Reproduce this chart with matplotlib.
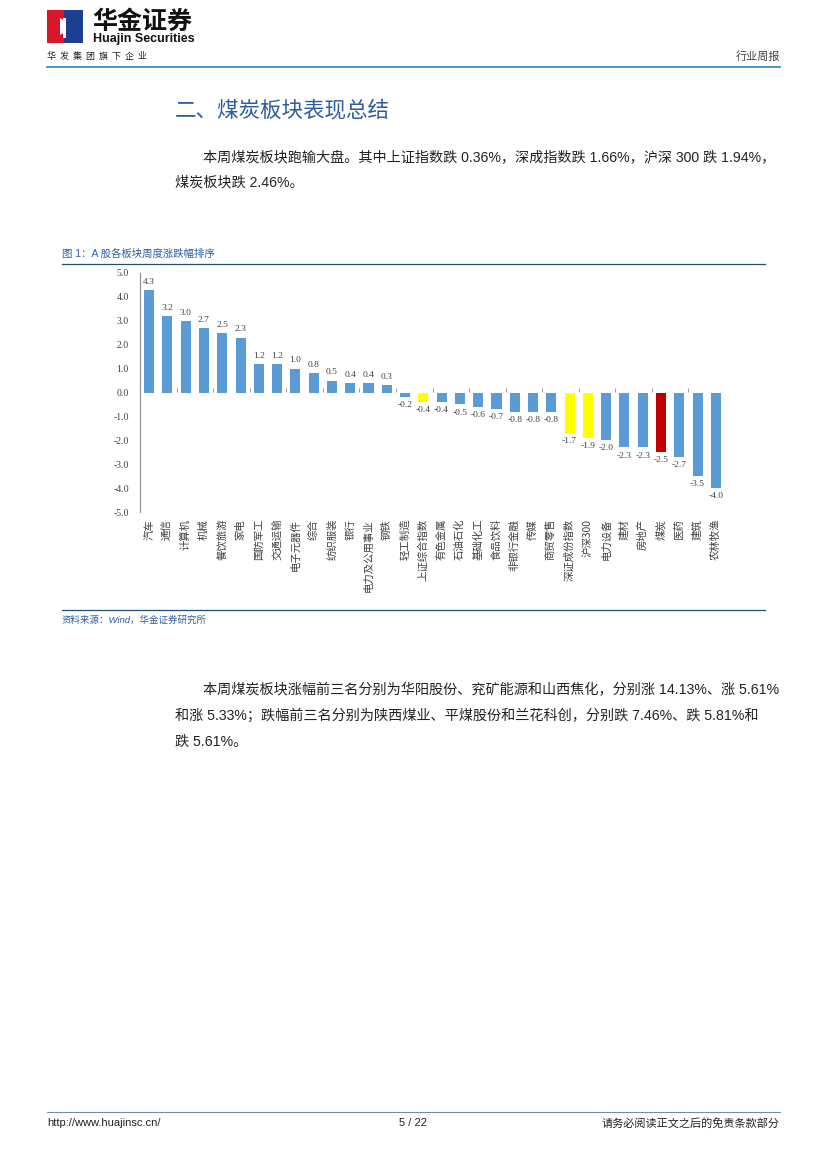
import numpy as np
import matplotlib
matplotlib.use('Agg')
import matplotlib.pyplot as plt
from matplotlib.patches import Rectangle, Polygon
from matplotlib.lines import Line2D

plt.rcParams['font.family'] = ['Liberation Sans', 'Noto Sans CJK SC', 'DejaVu Sans']

W, H = 827, 1169

# weekly change by sector (%), sorted
sectors = ['汽车', '通信', '计算机', '机械', '餐饮旅游', '家电', '国防军工', '交通运输',
           '电子元器件', '综合', '纺织服装', '银行', '电力及公用事业', '钢铁', '轻工制造',
           '上证综合指数', '有色金属', '石油石化', '基础化工', '食品饮料', '非银行金融',
           '传媒', '商贸零售', '深证成份指数', '沪深300', '电力设备', '建材', '房地产',
           '煤炭', '医药', '建筑', '农林牧渔']
changes = [4.3, 3.2, 3.0, 2.7, 2.5, 2.3, 1.2, 1.2, 1.0, 0.8, 0.5, 0.4, 0.4, 0.3, -0.2,
           -0.4, -0.4, -0.5, -0.6, -0.7, -0.8, -0.8, -0.8, -1.7, -1.9, -2.0, -2.3, -2.3,
           -2.5, -2.7, -3.5, -4.0]
indices = ['上证综合指数', '深证成份指数', '沪深300']
highlight = '煤炭'
yticks = [5, 4, 3, 2, 1, 0, -1, -2, -3, -4, -5]


def fx(x):
    return x / W


def fy(y):
    return 1 - y / H


fig = plt.figure(figsize=(W / 100, H / 100), dpi=100)
fig.patch.set_facecolor('white')

# ---- header ----
fig.patches.append(Rectangle((fx(47), fy(43)), fx(17), 33 / H, transform=fig.transFigure,
                             facecolor='#d7182a', edgecolor='none'))
fig.patches.append(Rectangle((fx(64), fy(43)), fx(19), 33 / H, transform=fig.transFigure,
                             facecolor='#1d3f91', edgecolor='none'))
fig.patches.append(Polygon([(fx(60), fy(18)), (fx(66), fy(22)), (fx(66), fy(31)), (fx(60), fy(35))],
                           closed=True, transform=fig.transFigure, facecolor='white', edgecolor='none'))
fig.patches.append(Rectangle((fx(63), fy(38)), fx(3), 20 / H, transform=fig.transFigure,
                             facecolor='white', edgecolor='none'))
fig.text(fx(92), fy(22), '华金证券', fontsize=18, fontweight='bold', color='#111111',
         family=['Noto Sans CJK SC'], va='center', ha='left')
fig.text(fx(93), fy(39), 'Huajin Securities', fontsize=9, fontweight='bold', color='#111111',
         va='center', ha='left', family=['Liberation Sans Narrow', 'Liberation Sans'])
fig.text(fx(47), fy(56), '华  发  集  团  旗  下  企  业', fontsize=6.5, color='#222222',
         va='center', ha='left', family=['Noto Sans CJK SC'])
fig.text(fx(780), fy(57), '行业周报', fontsize=8, color='#444444', va='center', ha='right',
         family=['Noto Sans CJK SC'])
fig.lines.append(Line2D([fx(47), fx(780)], [fy(66.5), fy(66.5)], transform=fig.transFigure,
                        color='#3b8fc6', linewidth=1.3))

# ---- section title and text ----
fig.text(fx(175), fy(111), '二、煤炭板块表现总结', fontsize=15.5, color='#2f5d9c',
         va='center', ha='left', family=['Noto Sans CJK SC'])
fig.text(fx(203), fy(157), '本周煤炭板块跑输大盘。其中上证指数跌 0.36%，深成指数跌 1.66%，沪深 300 跌 1.94%，',
         fontsize=10.2, color='#222222', va='center', ha='left')
fig.text(fx(175), fy(182), '煤炭板块跌 2.46%。', fontsize=10.2, color='#222222', va='center', ha='left')

# ---- figure caption ----
fig.text(fx(62), fy(254), '图 1：A 股各板块周度涨跌幅排序', fontsize=7.5, color='#2f5d9c',
         va='center', ha='left')
fig.lines.append(Line2D([fx(62), fx(765)], [fy(263.5), fy(263.5)], transform=fig.transFigure,
                        color='#1f4e79', linewidth=0.9))

# ---- chart ----
ax = fig.add_axes([fx(140), fy(512), (725 - 140) / W, (512 - 273) / H])
x = np.arange(len(sectors))
colors = []
for s in sectors:
    if s == highlight:
        colors.append('#c00000')
    elif s in indices:
        colors.append('#ffff00')
    else:
        colors.append('#5b9bd5')
ax.bar(x, changes, width=0.55, color=colors, edgecolor='none')

for xi, v in zip(x, changes):
    ax.annotate('%.1f' % v, (xi, v), xytext=(0, 3 if v >= 0 else -3), textcoords='offset points',
                ha='center', va='bottom' if v >= 0 else 'top', fontsize=6.8,
                color='#404040', family=['Liberation Serif'])

ax.set_xlim(-0.5, len(sectors) - 0.5)
ax.set_ylim(-5, 5)
ax.set_yticks(yticks)
ax.set_yticklabels(['%.1f' % t for t in yticks], family=['Liberation Serif'], fontsize=7,
                   color='#404040')
ax.set_xticks(x)
ax.set_xticklabels(sectors, rotation=90, fontsize=7.5, color='#404040', va='top', ha='center',
                   family=['Noto Sans CJK SC', 'DejaVu Sans'])
ax.tick_params(axis='y', length=0, pad=8)
ax.tick_params(axis='x', length=0, pad=5)
for side in ['top', 'right', 'bottom']:
    ax.spines[side].set_visible(False)
ax.spines['left'].set_color('#8c8c8c')
ax.spines['left'].set_linewidth(0.8)

# small category ticks along the zero line
zero_ax = ax.secondary_xaxis(0.5)
zero_ax.set_xticks(np.arange(1.5, len(sectors) - 1, 2))
zero_ax.set_xticklabels([])
zero_ax.tick_params(length=3, width=0.6, color='#8c8c8c')
for sp in zero_ax.spines.values():
    sp.set_visible(False)

# ---- source ----
fig.lines.append(Line2D([fx(62), fx(765)], [fy(610), fy(610)], transform=fig.transFigure,
                        color='#1f4e79', linewidth=0.9))
fig.text(fx(62), fy(620), '资料来源：Wind，华金证券研究所', fontsize=6.8, color='#2f5d9c',
         style='italic', va='center', ha='left')

# ---- second paragraph ----
fig.text(fx(203), fy(690), '本周煤炭板块涨幅前三名分别为华阳股份、兖矿能源和山西焦化，分别涨 14.13%、涨 5.61%',
         fontsize=10.2, color='#222222', va='center', ha='left')
fig.text(fx(175), fy(716), '和涨 5.33%；跌幅前三名分别为陕西煤业、平煤股份和兰花科创，分别跌 7.46%、跌 5.81%和',
         fontsize=10.2, color='#222222', va='center', ha='left')
fig.text(fx(175), fy(742), '跌 5.61%。', fontsize=10.2, color='#222222', va='center', ha='left')

# ---- footer ----
fig.lines.append(Line2D([fx(47), fx(780)], [fy(1112), fy(1112)], transform=fig.transFigure,
                        color='#6a8fb3', linewidth=0.8))
fig.text(fx(47), fy(1123), 'http://www.huajinsc.cn/', fontsize=8, color='#222222', va='center', ha='left')
fig.text(fx(413), fy(1123), '5 / 22', fontsize=8, color='#222222', va='center', ha='center')
fig.text(fx(780), fy(1123), '请务必阅读正文之后的免责条款部分', fontsize=8, color='#222222',
         va='center', ha='right', family=['Noto Sans CJK SC'])

fig.savefig('out.png', dpi=100)
